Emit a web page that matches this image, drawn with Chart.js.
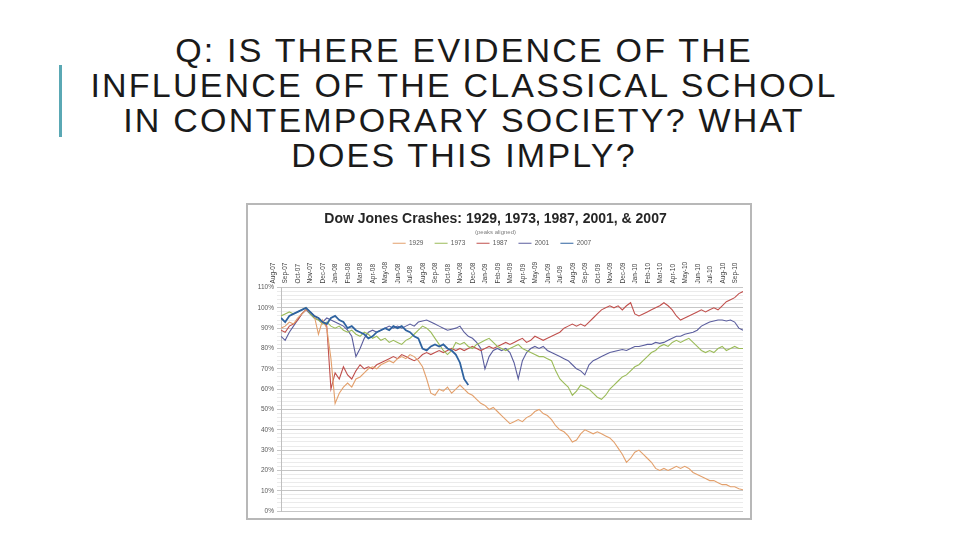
<!DOCTYPE html>
<html><head><meta charset="utf-8">
<script src="https://cdn.jsdelivr.net/npm/chart.js@4.4.1/dist/chart.umd.min.js"></script>
<style>
html,body{margin:0;padding:0;background:#fff;}
body{width:960px;height:540px;position:relative;overflow:hidden;font-family:"Liberation Sans",Arial,sans-serif;}
#title{position:absolute;left:2px;width:924px;top:33px;text-align:center;font-size:34px;line-height:35px;letter-spacing:2.2px;color:#1a1a1a;}
#bar{position:absolute;left:59px;top:65px;width:3px;height:72px;background:#5aa8b4;}
#frame{position:absolute;left:246px;top:203px;width:506px;height:317px;box-sizing:border-box;border:2px solid #b8b8b8;background:#fff;}
#frame canvas{display:block;}
</style></head><body>
<div id="bar"></div>
<div id="title">Q: IS THERE EVIDENCE OF THE<br>INFLUENCE OF THE CLASSICAL SCHOOL<br>IN CONTEMPORARY SOCIETY? WHAT<br>DOES THIS IMPLY?</div>
<div id="frame"><canvas id="c" width="502" height="313"></canvas></div>
<script>
// Month tick labels (peaks aligned to Oct-07)
const monthLabels = ["Aug-07","Sep-07","Oct-07","Nov-07","Dec-07",
 "Jan-08","Feb-08","Mar-08","Apr-08","May-08","Jun-08","Jul-08","Aug-08","Sep-08","Oct-08","Nov-08","Dec-08",
 "Jan-09","Feb-09","Mar-09","Apr-09","May-09","Jun-09","Jul-09","Aug-09","Sep-09","Oct-09","Nov-09","Dec-09",
 "Jan-10","Feb-10","Mar-10","Apr-10","May-10","Jun-10","Jul-10","Aug-10","Sep-10"];
const pointsPerMonth = 3;

// Series values, % of peak (three readings per month)
const s1929 = [90,91,93,92,95,97,99,98,96,87,94,90,
 75,53,58,61,63,61,65,66,68,70,71,70,
 72,73,74,73,75,76,75,77,76,74,71,65,
 58,57,60,59,61,58,60,62,60,58,57,55,
 53,52,50,51,49,47,45,43,44,45,44,46,
 47,49,50,48,47,45,42,40,39,37,34,35,
 38,40,39,38,39,38,37,36,34,31,28,24,
 26,29,30,28,26,24,21,20,21,20,21,22,
 21,22,21,19,18,17,16,15,15,14,13,13,
 12,12,11,10.5];
const s1973 = [96,97,98,97,98,99,100,97,95,94,92,93,
 91,90,91,89,88,89,87,86,88,87,85,86,
 84,85,83,84,83,82,84,85,87,89,91,90,
 88,85,82,79,77,79,83,82,83,81,80,82,
 83,84,85,83,81,80,79,80,81,82,80,79,
 78,77,76,76,75,74,69,65,63,61,57,59,
 62,61,60,58,56,55,57,60,62,64,66,67,
 69,71,72,74,76,78,79,81,82,81,83,84,
 83,84,85,83,81,79,78,79,78,80,81,79,
 80,81,80,80];
const s1987 = [89,88,91,92,94,97,99,98,96,95,93,91,
 60,68,65,71,67,65,69,72,70,71,70,72,
 73,74,75,76,75,77,76,75,74,75,77,78,
 77,78,79,78,79,80,79,80,79,80,81,80,
 79,80,81,80,81,82,83,82,83,84,85,83,
 84,86,85,84,85,86,87,88,90,91,92,91,
 92,91,93,95,97,99,100,101,100,101,99,101,
 102.5,97,96,97,98,99,100,101,102.5,101,99,96,
 94,95,96,97,98,99,98,99,100,99,101,103,
 104,105,107,108];
const s2001 = [86,84,88,91,94,97,99,97,95,94,93,95,
 94,93,92,91,89,86,76,80,85,88,89,88,
 89,90,91,90,91,90,91,92,91,93,93.5,94,
 93,92,91,90,89,89.5,90,91,88,86,85,83,
 80,70,76,79,80,79,80,78,73,65,74,78,
 80,81,80,81,79,78,77,76,75,74,72,70,
 69,67,72,74,75,76,77,78,78.5,79,79.5,79,
 80,81,81,81.5,82,82,83,82.5,83,84,85,86,
 86,87,87.5,88,89,91,92,93,93.5,94,94,93.5,
 94,93,90,89];
const s2007 = [95,93,96,97,98,99,100,98,96,95,93,92,
 95,96,94,93,90,91,89,88,87,85,86,88,
 89,90,89,91,90,91,89,88,86,85,80,79,
 81,82,81,82,80,79,77,73,65,62];

const seriesNames = ["1929","1973","1987","2001","2007"];
const seriesValues = [s1929, s1973, s1987, s2001, s2007];
const seriesColors = ["#E3A06C","#9BBB59","#C0504D","#5B5E9E","#2F63A0"];
const seriesWidths = [1.1,1.1,1.1,1.1,1.8];

const datasets = seriesNames.map((name,k) => ({
  label: name,
  data: seriesValues[k].map((v,i) => ({x: i/pointsPerMonth, y: v})),
  borderColor: seriesColors[k],
  backgroundColor: seriesColors[k],
  borderWidth: seriesWidths[k],
  pointRadius: 0,
  tension: 0,
  order: name === "2007" ? -1 : 0
}));

new Chart(document.getElementById('c'), {
  type: 'line',
  data: { datasets },
  options: {
    responsive: false,
    animation: false,
    devicePixelRatio: 1,
    layout: { padding: { left: 0, right: 7, top: 0, bottom: 6 } },
    plugins: {
      title: { display: true, text: 'Dow Jones Crashes: 1929, 1973, 1987, 2001, & 2007',
        font: { family: '"Liberation Sans", Arial, sans-serif', size: 14, weight: 'bold' },
        color: '#262626', padding: { top: 6, bottom: 0 } },
      subtitle: { display: true, text: '(peaks aligned)',
        font: { family: '"Liberation Sans", Arial, sans-serif', size: 6 },
        color: '#7f7f7f', padding: { top: 1, bottom: 0 } },
      legend: { display: true, position: 'top',
        labels: { boxWidth: 13, boxHeight: 1, padding: 4, color: '#595959',
          font: { family: '"Liberation Sans", Arial, sans-serif', size: 6.5 },
          sort: (a,b) => a.datasetIndex - b.datasetIndex,
          generateLabels: (chart) => Chart.defaults.plugins.legend.labels.generateLabels(chart)
             .map(it => Object.assign(it, { text: it.text + '    ', lineWidth: 0 })) } },
      tooltip: { enabled: false }
    },
    scales: {
      x: { type: 'linear', position: 'top', min: 0, max: monthLabels.length - 1,
        afterFit: s => { s.height = 31; },
        grid: { display: false, drawTicks: false }, border: { display: false },
        ticks: { stepSize: 1, autoSkip: false, minRotation: 90, maxRotation: 90, padding: 4,
          color: '#404040', font: { family: '"Liberation Sans", Arial, sans-serif', size: 6.5 },
          callback: v => monthLabels[v] } },
      y: { min: 0, max: 110,
        afterFit: s => { s.width = 33; },
        border: { display: true, color: '#bfbfbf' },
        grid: { color: c => (c.tick && c.tick.value % 10 === 0) ? '#c6c6c6' : '#ebebeb', tickLength: 4 },
        ticks: { stepSize: 2, autoSkip: false, padding: 3, color: '#595959',
          font: { family: '"Liberation Sans", Arial, sans-serif', size: 6.5 },
          callback: v => (v % 10 === 0 ? v + '%' : '') } }
    }
  }
});
</script>
</body></html>
